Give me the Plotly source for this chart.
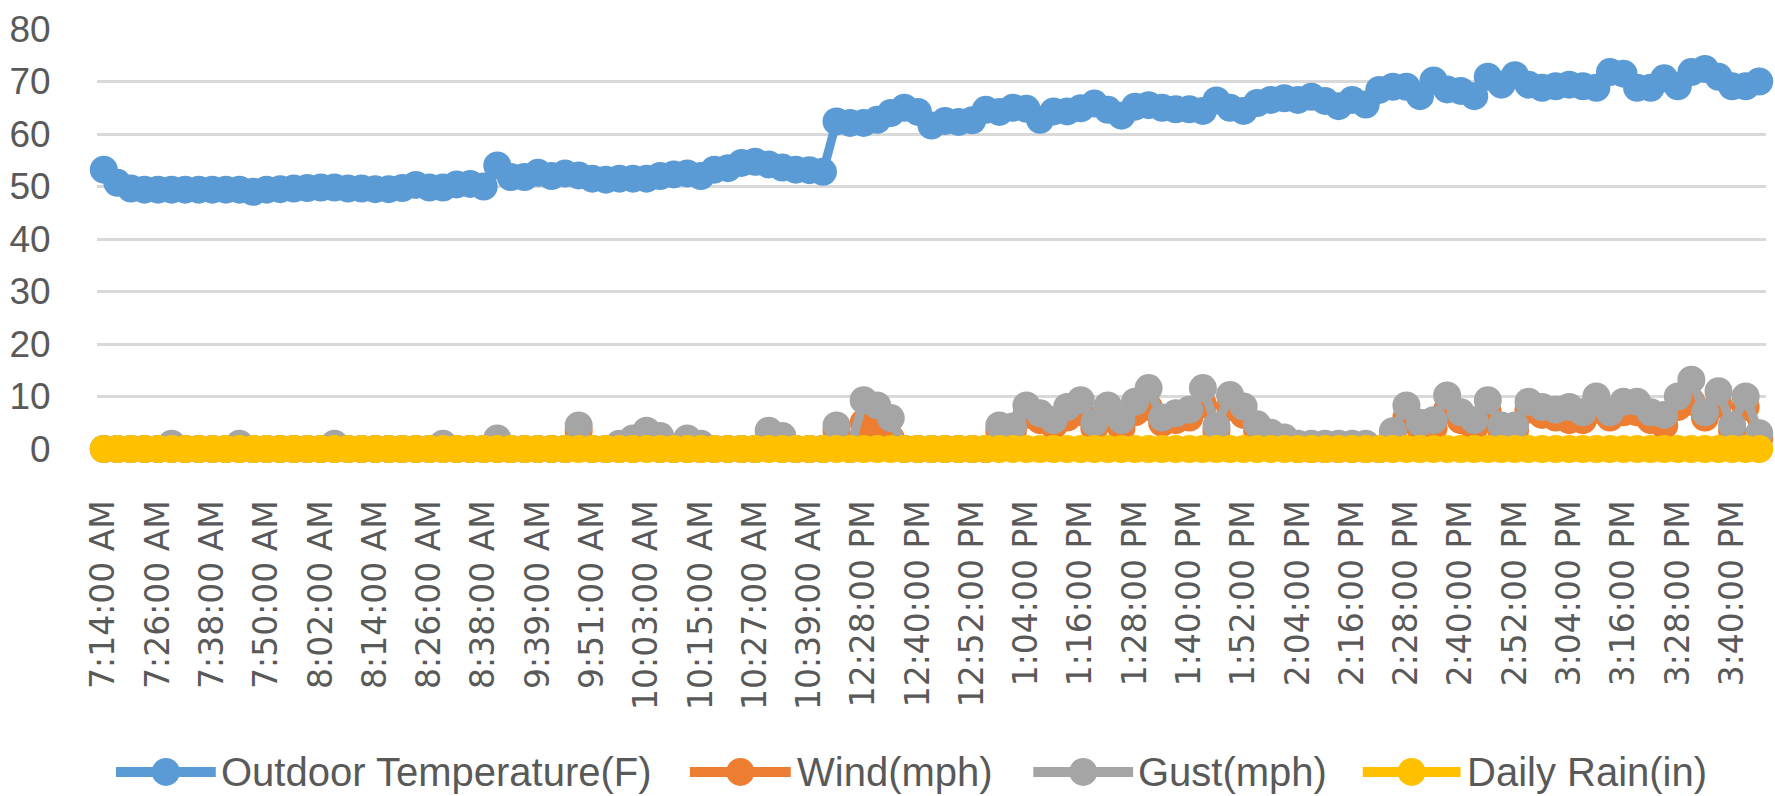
import plotly.graph_objects as go

# Reading times (category axis, one reading every 3 minutes with two gaps)
times = [
    "7:14:00 AM", "7:17:00 AM", "7:20:00 AM", "7:23:00 AM", "7:26:00 AM", "7:29:00 AM", "7:32:00 AM",
    "7:35:00 AM", "7:38:00 AM", "7:41:00 AM", "7:44:00 AM", "7:47:00 AM", "7:50:00 AM", "7:53:00 AM",
    "7:56:00 AM", "7:59:00 AM", "8:02:00 AM", "8:05:00 AM", "8:08:00 AM", "8:11:00 AM", "8:14:00 AM",
    "8:17:00 AM", "8:20:00 AM", "8:23:00 AM", "8:26:00 AM", "8:29:00 AM", "8:32:00 AM", "8:35:00 AM",
    "8:38:00 AM",
    "9:30:00 AM", "9:33:00 AM", "9:36:00 AM", "9:39:00 AM", "9:42:00 AM", "9:45:00 AM", "9:48:00 AM",
    "9:51:00 AM", "9:54:00 AM", "9:57:00 AM", "10:00:00 AM", "10:03:00 AM", "10:06:00 AM", "10:09:00 AM",
    "10:12:00 AM", "10:15:00 AM", "10:18:00 AM", "10:21:00 AM", "10:24:00 AM", "10:27:00 AM",
    "10:30:00 AM", "10:33:00 AM", "10:36:00 AM", "10:39:00 AM", "10:42:00 AM",
    "12:22:00 PM", "12:25:00 PM", "12:28:00 PM", "12:31:00 PM", "12:34:00 PM", "12:37:00 PM",
    "12:40:00 PM", "12:43:00 PM", "12:46:00 PM", "12:49:00 PM", "12:52:00 PM", "12:55:00 PM",
    "12:58:00 PM",
    "1:01:00 PM", "1:04:00 PM", "1:07:00 PM", "1:10:00 PM", "1:13:00 PM", "1:16:00 PM", "1:19:00 PM",
    "1:22:00 PM", "1:25:00 PM", "1:28:00 PM", "1:31:00 PM", "1:34:00 PM", "1:37:00 PM", "1:40:00 PM",
    "1:43:00 PM", "1:46:00 PM", "1:49:00 PM", "1:52:00 PM", "1:55:00 PM", "1:58:00 PM",
    "2:01:00 PM", "2:04:00 PM", "2:07:00 PM", "2:10:00 PM", "2:13:00 PM", "2:16:00 PM", "2:19:00 PM",
    "2:22:00 PM", "2:25:00 PM", "2:28:00 PM", "2:31:00 PM", "2:34:00 PM", "2:37:00 PM", "2:40:00 PM",
    "2:43:00 PM", "2:46:00 PM", "2:49:00 PM", "2:52:00 PM", "2:55:00 PM", "2:58:00 PM",
    "3:01:00 PM", "3:04:00 PM", "3:07:00 PM", "3:10:00 PM", "3:13:00 PM", "3:16:00 PM", "3:19:00 PM",
    "3:22:00 PM", "3:25:00 PM", "3:28:00 PM", "3:31:00 PM", "3:34:00 PM", "3:37:00 PM", "3:40:00 PM",
    "3:43:00 PM", "3:46:00 PM",
]

temperature = [
    53.2, 50.7, 49.6, 49.4, 49.4, 49.4, 49.4, 49.4, 49.4, 49.4,
    49.4, 49.0, 49.4, 49.5, 49.6, 49.7, 49.8, 49.8, 49.6, 49.6,
    49.5, 49.5, 49.7, 50.3, 49.8, 49.8, 50.4, 50.5, 50.0, 54.0,
    51.8, 51.8, 52.6, 52.0, 52.5, 52.1, 51.5, 51.3, 51.5, 51.5,
    51.5, 52.0, 52.3, 52.5, 52.0, 53.2, 53.5, 54.5, 54.7, 54.2,
    53.6, 53.2, 53.1, 52.8, 62.4, 62.1, 62.1, 62.7, 64.0, 65.0,
    64.2, 61.6, 62.5, 62.3, 62.6, 64.6, 64.2, 65.0, 64.8, 62.7,
    64.3, 64.3, 64.9, 65.8, 64.6, 63.5, 65.2, 65.5, 65.0, 64.7,
    64.7, 64.4, 66.4, 65.0, 64.4, 65.9, 66.5, 66.8, 66.5, 67.1,
    66.3, 65.3, 66.5, 65.6, 68.4, 69.0, 69.0, 67.2, 70.2, 68.5,
    68.2, 67.2, 70.9, 69.4, 71.2, 69.4, 68.8, 69.1, 69.4, 69.1,
    68.8, 71.8, 71.5, 68.8, 68.8, 70.6, 69.1, 71.8, 72.4, 70.9,
    69.1, 69.1, 70.0,
]

wind = [
    0, 0, 0, 0, 0, 0, 0, 0, 0, 0,
    0, 0, 0, 0, 0, 0, 0, 0, 0, 0,
    0, 0, 0, 0, 0, 0, 0, 0, 0, 0,
    0, 0, 0, 0, 0, 3.5, 0, 0, 0, 0,
    1, 0, 0, 0, 0, 0, 0, 0, 0, 2,
    0, 0, 0, 0, 3.5, 0, 5, 4.5, 2, 0,
    0, 0, 0, 0, 0, 0, 3.5, 3.5, 6.5, 5.5,
    4.5, 6, 7, 4, 6.5, 4, 7, 8, 5, 5.5,
    6, 8.5, 3.5, 8, 6.5, 3.5, 2, 1, 0, 0,
    0, 0, 0, 0, 0, 2.5, 6, 4, 4, 7.5,
    5.5, 4, 7, 3.5, 3.5, 7.5, 6.5, 6, 5.5, 5.5,
    7.5, 6, 7, 7, 5.5, 4.5, 8, 9, 6, 8.5,
    3.5, 8, 2,
]

gust = [
    0, 0, 0, 0, 0, 1, 0, 0, 0, 0,
    1, 0, 0, 0, 0, 0, 0, 1, 0, 0,
    0, 0, 0, 0, 0, 1, 0, 0, 0, 2,
    0, 0, 0, 0, 0, 4.5, 0, 0, 1, 2,
    3.5, 2.5, 0, 2, 1, 0, 0, 0, 0, 3.5,
    2.5, 0, 0, 0, 4.5, 0, 9.3, 8.3, 5.9, 0,
    0, 0, 0, 0, 0, 0, 4.5, 4.3, 8.3, 6.8,
    5.5, 8, 9.3, 5, 8.3, 5.5, 9, 11.6, 6, 6.8,
    7.5, 11.6, 4.4, 10.3, 8.1, 4.7, 3.1, 2.2, 1, 1,
    1, 1, 1, 1, 0, 3.4, 8.3, 5, 5.5, 10.2,
    7, 5.5, 9.3, 4.5, 4.5, 9, 8, 7.5, 8, 7,
    10, 7, 9, 9, 7, 6.5, 10, 13.2, 7, 11,
    4.5, 10, 3,
]

daily_rain = [
    0, 0, 0, 0, 0, 0, 0, 0, 0, 0,
    0, 0, 0, 0, 0, 0, 0, 0, 0, 0,
    0, 0, 0, 0, 0, 0, 0, 0, 0, 0,
    0, 0, 0, 0, 0, 0, 0, 0, 0, 0,
    0, 0, 0, 0, 0, 0, 0, 0, 0, 0,
    0, 0, 0, 0, 0, 0, 0, 0, 0, 0,
    0, 0, 0, 0, 0, 0, 0, 0, 0, 0,
    0, 0, 0, 0, 0, 0, 0, 0, 0, 0,
    0, 0, 0, 0, 0, 0, 0, 0, 0, 0,
    0, 0, 0, 0, 0, 0, 0, 0, 0, 0,
    0, 0, 0, 0, 0, 0, 0, 0, 0, 0,
    0, 0, 0, 0, 0, 0, 0, 0, 0, 0,
    0, 0, 0,
]

y_ticks = [0, 10, 20, 30, 40, 50, 60, 70, 80]

series = [
    ("Outdoor Temperature(F)", temperature, "#5B9BD5"),
    ("Wind(mph)", wind, "#ED7D31"),
    ("Gust(mph)", gust, "#A5A5A5"),
    ("Daily Rain(in)", daily_rain, "#FFC000"),
]

LINE_W = 9
MARKER_D = 28
TEXT_GREY = "#595959"

fig = go.Figure()
for name, values, color in series:
    fig.add_trace(go.Scatter(
        x=times, y=values, name=name, mode="lines+markers",
        line=dict(color=color, width=LINE_W),
        marker=dict(color=color, size=MARKER_D, line=dict(width=0)),
        cliponaxis=False, showlegend=False,
    ))

# plot area in pixels
W, H = 1775, 796
L, R, T, B = 94, 9, 25, 347
pw, ph = W - L - R, H - T - B


def px_x(x):
    return (x - L) / pw


def px_y(y):
    return (H - B - y) / ph


# legend drawn as line + dot + label along the bottom
legend_items = [
    (113, 213, 216),
    (688, 789, 793),
    (1032, 1132, 1135),
    (1362, 1460, 1464),
]
legend_y = 775
shapes = []
annotations = []
for (x0, x1, tx), (name, _, color) in zip(legend_items, series):
    shapes.append(dict(type="line", xref="paper", yref="paper",
                       x0=px_x(x0), x1=px_x(x1), y0=px_y(legend_y), y1=px_y(legend_y),
                       line=dict(color=color, width=LINE_W + 1)))
    shapes.append(dict(type="circle", xref="paper", yref="paper",
                       xsizemode="pixel", ysizemode="pixel",
                       xanchor=px_x((x0 + x1) / 2), yanchor=px_y(legend_y),
                       x0=-MARKER_D / 2, x1=MARKER_D / 2, y0=-MARKER_D / 2, y1=MARKER_D / 2,
                       fillcolor=color, line=dict(width=0)))
    annotations.append(dict(xref="paper", yref="paper", x=px_x(tx), y=px_y(legend_y),
                            text=name, showarrow=False, xanchor="left", yanchor="middle",
                            font=dict(family="Liberation Sans, Arial, sans-serif", size=40,
                                      color=TEXT_GREY)))

fig.update_layout(
    width=W, height=H,
    margin=dict(l=L, r=R, t=T, b=B, pad=0),
    paper_bgcolor="white", plot_bgcolor="white",
    shapes=shapes, annotations=annotations,
    xaxis=dict(
        type="category", categoryorder="array", categoryarray=times,
        tickmode="array", tickvals=times[::4], ticktext=times[::4],
        tickangle=-90, ticks="outside", ticklen=37, tickcolor="rgba(0,0,0,0)",
        tickfont=dict(family="DejaVu Sans", size=33, color=TEXT_GREY),
        showgrid=False, zeroline=False, showline=False,
        range=[-0.5, len(times) - 0.5],
    ),
    yaxis=dict(
        range=[0, 80], tickmode="array", tickvals=y_ticks,
        ticks="outside", ticklen=38, tickcolor="rgba(0,0,0,0)",
        tickfont=dict(family="Liberation Sans, Arial, sans-serif", size=37, color=TEXT_GREY),
        showgrid=True, gridcolor="#D9D9D9", gridwidth=3,
        zeroline=False, showline=False,
    ),
)

fig.write_html("out.html")
